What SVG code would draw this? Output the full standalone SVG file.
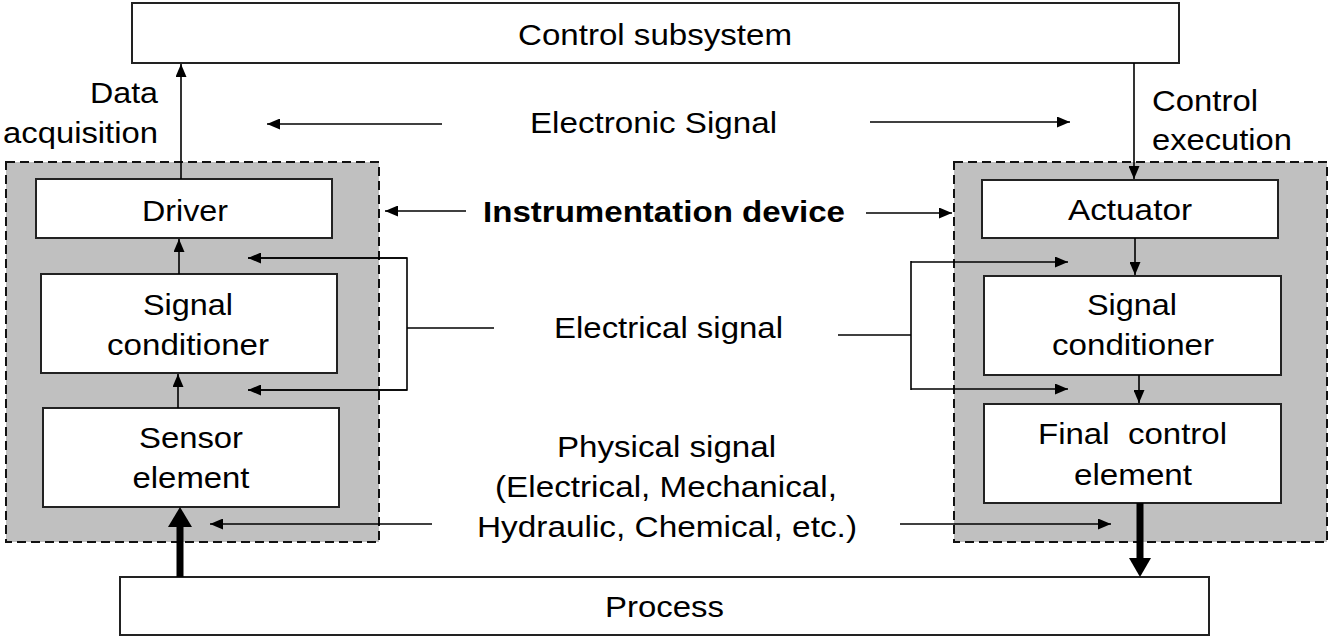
<svg xmlns="http://www.w3.org/2000/svg" width="1331" height="639" viewBox="0 0 1331 639">
<style>
  .box { fill: #ffffff; stroke: #222222; stroke-width: 2; }
  .group { fill: #c0c0c0; stroke: #111111; stroke-width: 2; stroke-dasharray: 9 5; }
  .t { font-family: "Liberation Sans", Arial, sans-serif; font-size: 30px; fill: #000000; }
  .b { font-weight: bold; }
  .c { text-anchor: middle; }
  .r { text-anchor: end; }
  .ln { stroke: #000000; stroke-width: 1.6; fill: none; }
  .thick { stroke: #000000; stroke-width: 7; fill: none; }
</style>
<defs>
  <marker id="ah" viewBox="0 0 13 11" refX="13" refY="5.5" markerWidth="13" markerHeight="11" markerUnits="userSpaceOnUse" orient="auto">
    <path d="M0,0 L13,5.5 L0,11 z" fill="#000000"/>
  </marker>
  <marker id="ahb" viewBox="0 0 20 24" refX="20" refY="12" markerWidth="20" markerHeight="24" markerUnits="userSpaceOnUse" orient="auto">
    <path d="M0,0 L20,12 L0,24 z" fill="#000000"/>
  </marker>
</defs>

<g id="group-sensor-device">
  <rect class="group" x="6" y="162" width="373" height="380"/>
</g>
<g id="group-actuator-device">
  <rect class="group" x="954" y="162" width="373" height="380"/>
</g>

<g id="node-control-subsystem">
  <rect class="box" x="132" y="3" width="1047" height="60"/>
  <text class="t c" x="655" y="45" textLength="274" lengthAdjust="spacingAndGlyphs">Control subsystem</text>
</g>
<g id="node-process">
  <rect class="box" x="120" y="577" width="1089" height="58"/>
  <text class="t c" x="664.5" y="617" textLength="119" lengthAdjust="spacingAndGlyphs">Process</text>
</g>
<g id="node-driver">
  <rect class="box" x="36" y="179" width="296" height="59"/>
  <text class="t c" x="185" y="221" textLength="86" lengthAdjust="spacingAndGlyphs">Driver</text>
</g>
<g id="node-signal-conditioner-left">
  <rect class="box" x="41" y="274" width="296" height="99"/>
  <text class="t c" x="188" y="315" textLength="90" lengthAdjust="spacingAndGlyphs">Signal</text>
  <text class="t c" x="188" y="355" textLength="162" lengthAdjust="spacingAndGlyphs">conditioner</text>
</g>
<g id="node-sensor-element">
  <rect class="box" x="43" y="408" width="296" height="99"/>
  <text class="t c" x="191" y="448" textLength="104" lengthAdjust="spacingAndGlyphs">Sensor</text>
  <text class="t c" x="191" y="488" textLength="117" lengthAdjust="spacingAndGlyphs">element</text>
</g>
<g id="node-actuator">
  <rect class="box" x="982" y="180" width="296" height="58"/>
  <text class="t c" x="1130" y="220" textLength="124" lengthAdjust="spacingAndGlyphs">Actuator</text>
</g>
<g id="node-signal-conditioner-right">
  <rect class="box" x="984" y="276" width="297" height="99"/>
  <text class="t c" x="1132" y="315" textLength="90" lengthAdjust="spacingAndGlyphs">Signal</text>
  <text class="t c" x="1133" y="355" textLength="162" lengthAdjust="spacingAndGlyphs">conditioner</text>
</g>
<g id="node-final-control-element">
  <rect class="box" x="984" y="404" width="297" height="99"/>
  <text class="t c" x="1132.5" y="444" textLength="189" lengthAdjust="spacingAndGlyphs" xml:space="preserve">Final  control</text>
  <text class="t c" x="1133" y="485" textLength="118" lengthAdjust="spacingAndGlyphs">element</text>
</g>

<g id="labels">
  <text class="t r" x="158" y="103" textLength="68" lengthAdjust="spacingAndGlyphs">Data</text>
  <text class="t r" x="158" y="143" textLength="155" lengthAdjust="spacingAndGlyphs">acquisition</text>
  <text class="t" x="1152" y="111" textLength="106" lengthAdjust="spacingAndGlyphs">Control</text>
  <text class="t" x="1152" y="150" textLength="140" lengthAdjust="spacingAndGlyphs">execution</text>
  <text class="t c" x="653.5" y="133" textLength="247" lengthAdjust="spacingAndGlyphs">Electronic Signal</text>
  <text class="t c b" x="664" y="222" textLength="362" lengthAdjust="spacingAndGlyphs">Instrumentation device</text>
  <text class="t c" x="668.5" y="338" textLength="229" lengthAdjust="spacingAndGlyphs">Electrical signal</text>
  <text class="t c" x="666.5" y="457" textLength="219" lengthAdjust="spacingAndGlyphs">Physical signal</text>
  <text class="t c" x="666" y="497" textLength="342" lengthAdjust="spacingAndGlyphs">(Electrical, Mechanical,</text>
  <text class="t c" x="667" y="537" textLength="380" lengthAdjust="spacingAndGlyphs">Hydraulic, Chemical, etc.)</text>
</g>

<g id="connectors">
  <!-- vertical flow left -->
  <line class="ln" x1="181" y1="179" x2="181" y2="64" marker-end="url(#ah)"/>
  <line class="ln" x1="179" y1="274" x2="179" y2="239" marker-end="url(#ah)"/>
  <line class="ln" x1="178" y1="408" x2="178" y2="374" marker-end="url(#ah)"/>
  <line class="thick" x1="180" y1="577" x2="180" y2="527"/>
  <path d="M168,527 L180,507 L192,527 z" fill="#000000"/>
  <!-- vertical flow right -->
  <line class="ln" x1="1134" y1="63" x2="1134" y2="179" marker-end="url(#ah)"/>
  <line class="ln" x1="1135" y1="238" x2="1135" y2="275" marker-end="url(#ah)"/>
  <line class="ln" x1="1139" y1="375" x2="1139" y2="403" marker-end="url(#ah)"/>
  <line class="thick" x1="1140" y1="503" x2="1140" y2="558"/>
  <path d="M1129,558 L1140,577 L1151,558 z" fill="#000000"/>
  <!-- electronic signal -->
  <line class="ln" x1="442" y1="124" x2="267" y2="124" marker-end="url(#ah)"/>
  <line class="ln" x1="870" y1="122" x2="1070" y2="122" marker-end="url(#ah)"/>
  <!-- instrumentation device -->
  <line class="ln" x1="466" y1="211" x2="385" y2="211" marker-end="url(#ah)"/>
  <line class="ln" x1="866" y1="213" x2="952" y2="213" marker-end="url(#ah)"/>
  <!-- electrical signal left bracket -->
  <line class="ln" x1="494" y1="328" x2="407" y2="328"/>
  <path class="ln" d="M248,258 L407,258 L407,390 L248,390"/>
  <line class="ln" x1="407" y1="258" x2="248" y2="258" marker-end="url(#ah)"/>
  <line class="ln" x1="407" y1="390" x2="248" y2="390" marker-end="url(#ah)"/>
  <!-- electrical signal right bracket -->
  <line class="ln" x1="838" y1="335" x2="911" y2="335"/>
  <line class="ln" x1="911" y1="261" x2="911" y2="390"/>
  <line class="ln" x1="911" y1="262" x2="1068" y2="262" marker-end="url(#ah)"/>
  <line class="ln" x1="911" y1="389" x2="1068" y2="389" marker-end="url(#ah)"/>
  <!-- physical signal -->
  <line class="ln" x1="432" y1="524" x2="210" y2="524" marker-end="url(#ah)"/>
  <line class="ln" x1="900" y1="524" x2="1111" y2="524" marker-end="url(#ah)"/>
</g>
</svg>
